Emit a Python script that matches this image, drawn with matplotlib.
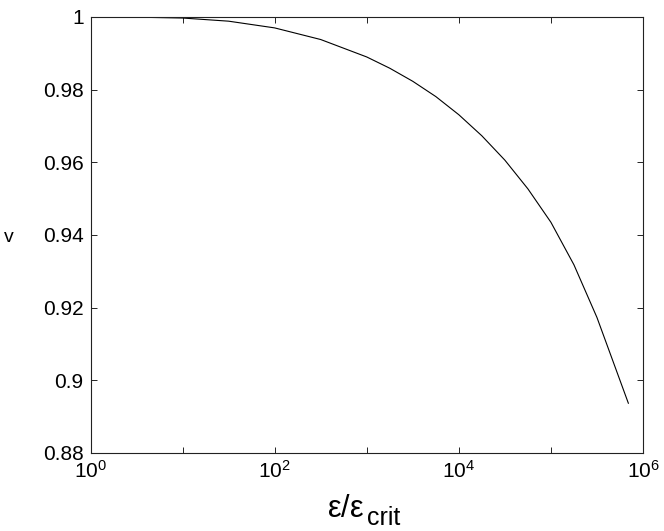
import matplotlib
matplotlib.use("Agg")
import matplotlib.pyplot as plt
from matplotlib.ticker import FixedLocator, FixedFormatter, NullLocator

plt.rcParams['font.family'] = ['Liberation Sans', 'DejaVu Sans']
plt.rcParams['mathtext.fontset'] = 'custom'
plt.rcParams['mathtext.rm'] = 'Liberation Sans'
plt.rcParams['mathtext.it'] = 'Liberation Sans'

# data (log10 of eps/eps_crit and v)
log_eps_ratio = [0.0, 0.5, 1.0, 1.5, 2.0, 2.5, 3.0, 3.25, 3.5, 3.75, 4.0,
                 4.25, 4.5, 4.75, 5.0, 5.25, 5.5, 5.75, 5.841]
v_vals = [1.0, 0.99995, 0.99972, 0.99885, 0.99700, 0.99380, 0.98900,
          0.98590, 0.98230, 0.97810, 0.97310, 0.96730, 0.96060, 0.95270,
          0.94350, 0.93180, 0.91730, 0.90000, 0.8937]
eps_ratio = [10 ** e for e in log_eps_ratio]

x_ticks = [1e0, 1e1, 1e2, 1e3, 1e4, 1e5, 1e6]
x_ticklabels = [r'$10^{0}$', '', r'$10^{2}$', '', r'$10^{4}$', '', r'$10^{6}$']
y_ticks = [0.88, 0.90, 0.92, 0.94, 0.96, 0.98, 1.0]
y_ticklabels = ['0.88', '0.9', '0.92', '0.94', '0.96', '0.98', '1']

fig = plt.figure(figsize=(6.64, 5.31), dpi=100)
ax = fig.add_axes([90.5/664, 1-453/531, (643-90.5)/664, (453-17)/531])
ax.plot(eps_ratio, v_vals, color='black', linewidth=0.8)
ax.set_xscale('log')
ax.set_xlim(1, 1e6)
ax.set_ylim(0.88, 1.0)
ax.xaxis.set_major_locator(FixedLocator(x_ticks))
ax.xaxis.set_major_formatter(FixedFormatter(x_ticklabels))
ax.xaxis.set_minor_locator(NullLocator())
ax.set_yticks(y_ticks)
ax.set_yticklabels(y_ticklabels)
ax.tick_params(direction='in', length=4.5, width=0.6, top=True, right=True,
               labelsize=15, pad=5, colors='black')
for s in ax.spines.values():
    s.set_linewidth(0.8)
    s.set_color('#222222')

fig.text(364/664, 1-509/531, r'$\mathregular{ε/ε}$', fontsize=22, ha='right', va='center')
fig.text(367/664, 1-518/531, 'crit', fontsize=18, ha='left', va='center')
fig.text(9/664, 1-237/531, 'v', fontsize=14, ha='center', va='center')

fig.savefig('out.png', dpi=100)
